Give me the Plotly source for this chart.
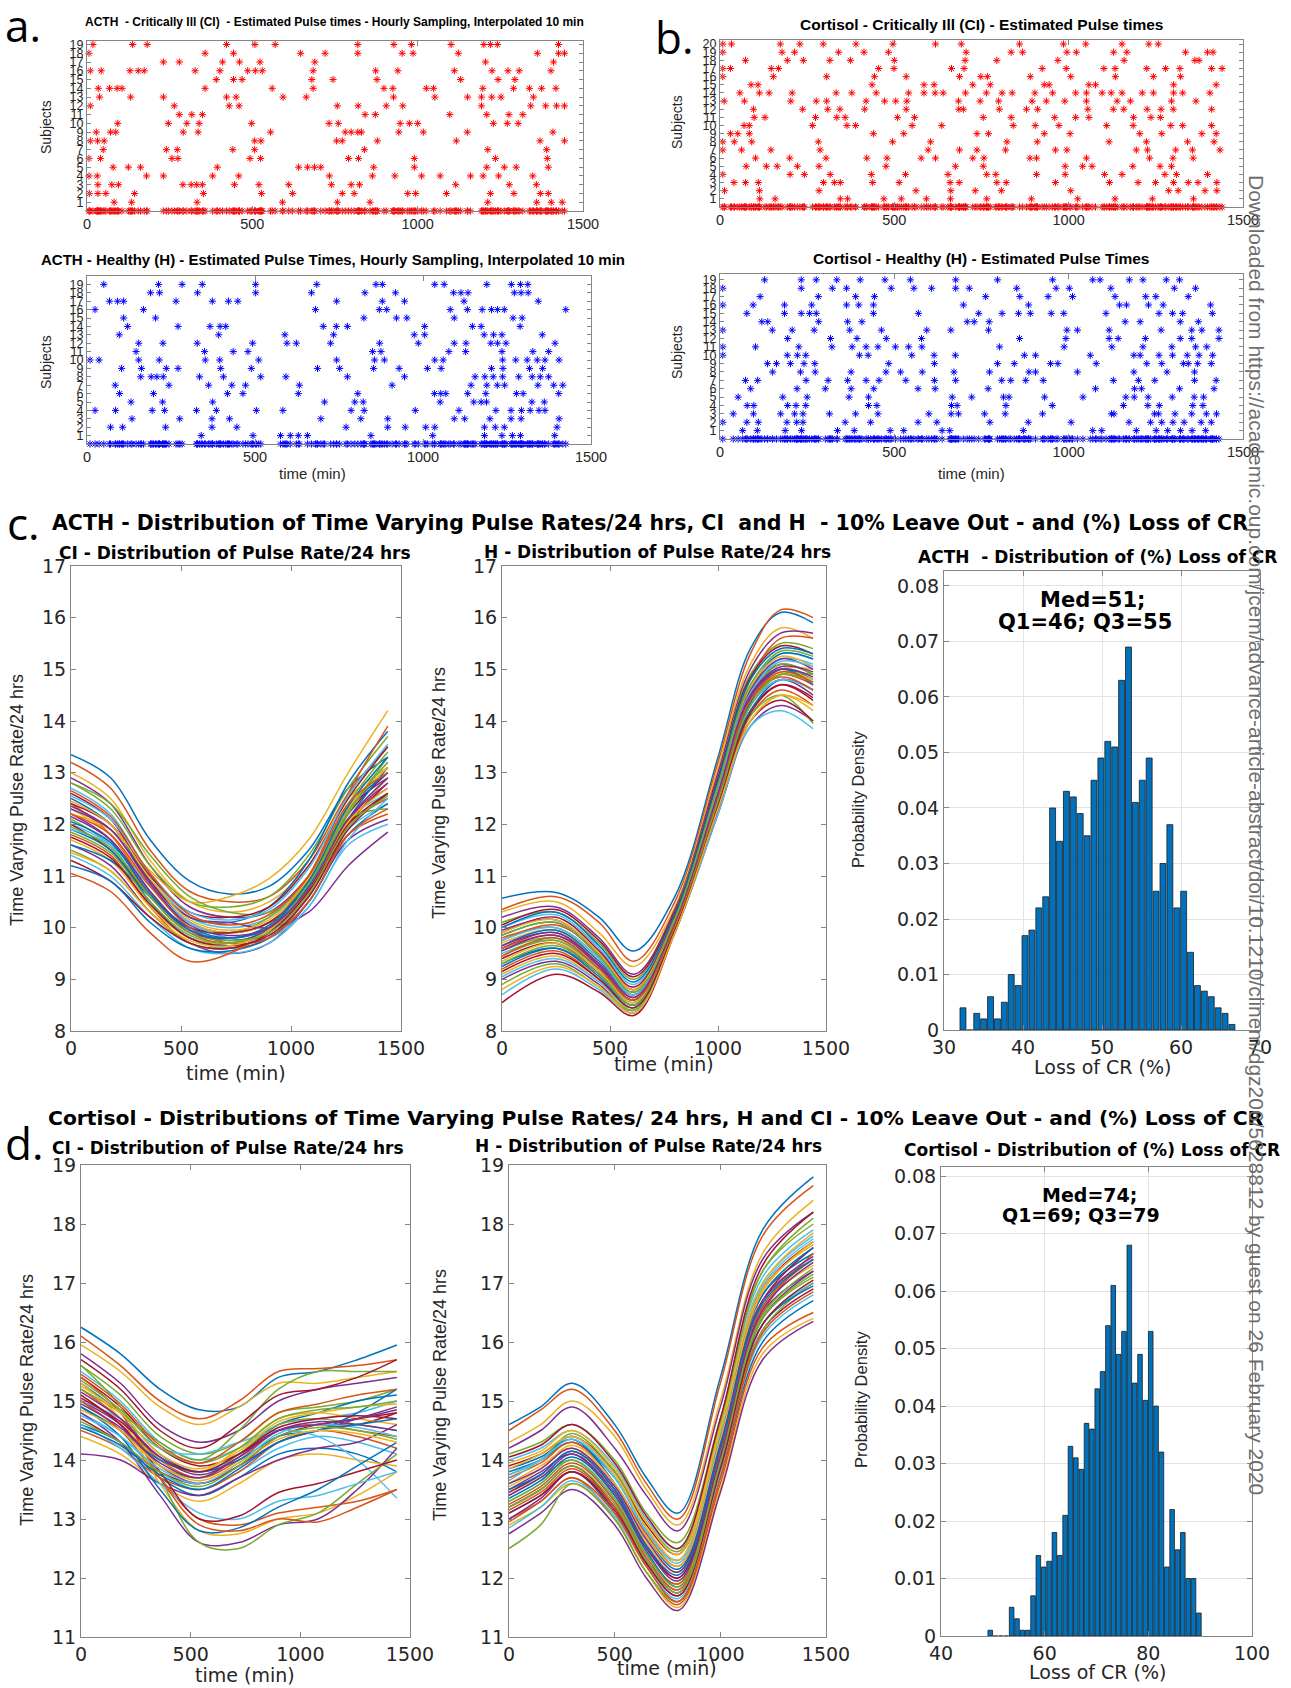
import plotly.graph_objects as go

W, H = 1291, 1688

# ---------------- DATA ----------------
# Estimated pulse times (min) per subject (index 0 = subject 1)
acth_ci_pulses = [
    [82, 135, 333, 591, 757, 856, 1212, 1360, 1404, 1437],
    [7, 33, 57, 144, 352, 528, 622, 772, 808, 970, 994, 1087, 1220, 1291, 1371, 1395],
    [33, 75, 95, 290, 315, 332, 349, 446, 520, 610, 739, 799, 824, 1115, 1277, 1359],
    [6, 31, 180, 231, 380, 459, 733, 863, 931, 1012, 1068, 1160, 1198, 1245, 1348],
    [79, 125, 162, 394, 640, 667, 688, 707, 867, 990, 1209, 1262, 1298, 1395],
    [6, 41, 257, 275, 493, 525, 791, 821, 990, 1235, 1392],
    [49, 240, 273, 441, 507, 839, 1212, 1390],
    [10, 32, 52, 507, 526, 755, 772, 878, 1117, 1370, 1444],
    [28, 71, 87, 291, 336, 555, 781, 799, 819, 830, 943, 1017, 1150, 1409],
    [93, 246, 302, 339, 498, 732, 760, 947, 975, 1000, 1229, 1271, 1304],
    [279, 317, 349, 841, 872, 1097, 1209, 1276, 1318],
    [10, 264, 430, 460, 757, 820, 905, 955, 1193, 1342, 1387, 1420, 1444],
    [38, 132, 231, 422, 451, 593, 663, 927, 1052, 1151, 1193, 1224, 1252, 1350],
    [34, 68, 91, 106, 357, 560, 684, 898, 925, 1026, 1048, 1197, 1290, 1338, 1375, 1418],
    [391, 443, 469, 680, 744, 877, 1130, 1243, 1294],
    [10, 43, 130, 155, 173, 327, 402, 486, 509, 530, 684, 873, 940, 1111, 1225, 1273, 1307, 1403],
    [231, 279, 410, 461, 523, 689, 1205, 1411],
    [6, 357, 443, 646, 720, 819, 953, 986, 1123, 1362, 1426, 1444],
    [18, 138, 182, 422, 508, 569, 819, 928, 981, 1101, 1200, 1220, 1241, 1426],
]
acth_h_pulses = [
    [340, 494, 576, 605, 629, 656, 845, 1029, 1183, 1235, 1266, 1290, 1392],
    [70, 106, 234, 372, 446, 771, 895, 947, 1008, 1035, 1183, 1215, 1242, 1399],
    [134, 276, 372, 424, 696, 815, 895, 1093, 1124, 1199, 1262, 1292, 1405],
    [24, 85, 194, 231, 326, 385, 504, 583, 786, 825, 977, 1107, 1217, 1262, 1293, 1319, 1345, 1363],
    [131, 225, 374, 707, 797, 822, 1051, 1151, 1173, 1189, 1324, 1361],
    [97, 198, 418, 464, 629, 806, 1034, 1053, 1068, 1133, 1187, 1278, 1298, 1404],
    [84, 244, 362, 431, 472, 632, 908, 1143, 1190, 1221, 1243, 1342, 1389, 1416],
    [160, 191, 208, 227, 335, 406, 517, 592, 775, 945, 1155, 1184, 1209, 1237, 1285, 1325, 1349, 1374],
    [103, 162, 236, 271, 398, 489, 686, 752, 853, 929, 1013, 1054, 1204, 1238, 1317, 1356],
    [9, 36, 154, 215, 352, 395, 511, 743, 856, 885, 1035, 1060, 1237, 1276, 1310, 1340, 1363, 1405],
    [146, 350, 435, 479, 850, 875, 1077, 1127, 1235, 1327, 1374],
    [154, 226, 328, 493, 595, 623, 725, 871, 986, 1093, 1128, 1202, 1222, 1247, 1393],
    [96, 392, 589, 734, 974, 1005, 1182, 1210, 1235, 1355],
    [121, 271, 366, 396, 413, 703, 742, 775, 1005, 1147, 1173, 1289],
    [109, 204, 824, 921, 952, 1093, 1268, 1295],
    [24, 168, 680, 870, 892, 1081, 1132, 1176, 1204, 1222, 1242, 1425],
    [67, 91, 109, 265, 373, 421, 449, 743, 879, 945, 1122, 1343],
    [189, 216, 329, 502, 668, 827, 918, 1091, 1113, 1134, 1272, 1292, 1313],
    [50, 213, 283, 343, 502, 684, 860, 879, 1035, 1063, 1190, 1263, 1290, 1312],
]
cort_ci_pulses = [
    [114, 158, 345, 366, 470, 520, 592, 661, 765, 893, 1026, 1133, 1240, 1358],
    [13, 113, 284, 562, 662, 732, 807, 1006, 1287, 1314, 1391, 1425],
    [40, 73, 110, 297, 328, 345, 438, 514, 660, 686, 794, 821, 962, 1117, 1199, 1249, 1301, 1343, 1371, 1425],
    [8, 201, 242, 316, 434, 532, 654, 765, 791, 908, 990, 1103, 1153, 1276, 1309, 1398],
    [75, 133, 164, 222, 284, 476, 675, 755, 990, 1040, 1067, 1184, 1262, 1295],
    [102, 200, 304, 421, 479, 577, 618, 725, 757, 889, 908, 1051, 1232, 1299, 1357],
    [8, 62, 146, 287, 597, 687, 737, 819, 962, 995, 1194, 1226, 1307, 1355, 1434],
    [8, 41, 91, 282, 495, 604, 823, 910, 1116, 1223, 1341, 1417],
    [30, 51, 84, 440, 527, 737, 770, 930, 1004, 1204, 1267, 1382, 1423],
    [69, 84, 265, 364, 389, 551, 636, 841, 904, 972, 1109, 1185, 1293, 1327, 1410],
    [98, 129, 274, 335, 359, 509, 558, 755, 835, 960, 1020, 1058, 1186, 1236, 1263],
    [96, 237, 309, 344, 415, 534, 685, 698, 801, 879, 911, 1055, 1128, 1158, 1225, 1265, 1300, 1410],
    [12, 70, 203, 276, 306, 419, 472, 504, 536, 684, 746, 799, 895, 936, 989, 1051, 1139, 1177, 1295, 1365],
    [57, 113, 141, 207, 333, 378, 448, 541, 585, 617, 640, 704, 764, 809, 838, 903, 954, 1020, 1051, 1096,
     1122, 1153, 1211, 1243, 1301, 1327, 1405],
    [89, 109, 436, 585, 614, 725, 775, 930, 944, 1058, 1077, 1301, 1423],
    [8, 153, 306, 443, 534, 687, 748, 767, 890, 1006, 1134, 1243, 1321],
    [8, 30, 147, 168, 455, 499, 664, 700, 924, 993, 1101, 1133, 1224, 1278, 1319, 1410, 1440],
    [73, 193, 239, 315, 374, 500, 703, 794, 969, 1159, 1362, 1374],
    [8, 178, 214, 340, 413, 483, 706, 835, 868, 995, 1022, 1129, 1167, 1335, 1398, 1414],
    [8, 33, 173, 229, 296, 390, 496, 618, 692, 859, 985, 1049, 1153, 1230, 1257],
]
cort_h_pulses = [
    [65, 107, 187, 234, 337, 385, 488, 527, 637, 659, 870, 1069, 1095, 1194, 1251, 1284, 1321, 1354, 1393],
    [8, 77, 110, 192, 220, 238, 359, 432, 568, 622, 774, 884, 1007, 1173, 1235, 1267, 1299, 1331, 1380, 1409],
    [38, 96, 174, 214, 238, 314, 389, 453, 599, 663, 684, 759, 818, 925, 1123, 1130, 1246, 1258, 1305, 1353,
     1395, 1424],
    [78, 97, 194, 218, 246, 426, 450, 664, 680, 820, 953, 1157, 1227, 1260, 1356, 1385],
    [52, 180, 250, 370, 426, 666, 722, 813, 829, 931, 1041, 1164, 1188, 1228, 1297, 1360, 1387],
    [88, 221, 302, 376, 441, 568, 617, 769, 1077, 1189, 1209, 1318, 1417],
    [73, 108, 247, 310, 366, 419, 456, 533, 615, 676, 808, 834, 877, 927, 1128, 1200, 1247, 1361, 1423],
    [151, 231, 273, 376, 476, 518, 580, 671, 773, 886, 905, 1025, 1187, 1282, 1361],
    [136, 162, 202, 241, 272, 484, 615, 796, 844, 948, 969, 1079, 1224, 1267, 1329, 1343, 1370, 1409],
    [8, 193, 222, 246, 400, 425, 550, 614, 675, 873, 905, 1062, 1187, 1205, 1259, 1298, 1340, 1374, 1413],
    [8, 102, 226, 321, 379, 419, 453, 503, 541, 579, 802, 987, 1124, 1213, 1296, 1364, 1396],
    [194, 317, 393, 477, 578, 859, 992, 1116, 1142, 1220, 1320, 1353, 1431],
    [8, 150, 207, 270, 372, 463, 593, 662, 770, 995, 1025, 1116, 1265, 1353, 1382, 1431],
    [120, 137, 283, 366, 407, 709, 729, 772, 1162, 1205, 1320, 1372],
    [77, 185, 233, 257, 276, 440, 569, 742, 809, 856, 890, 950, 986, 1107, 1259, 1298, 1327, 1412],
    [8, 95, 185, 263, 363, 398, 440, 698, 885, 1146, 1166, 1229, 1271, 1407],
    [115, 282, 389, 443, 762, 860, 941, 1011, 1133, 1221, 1250, 1343],
    [8, 233, 322, 363, 491, 556, 607, 676, 715, 851, 964, 1002, 1121, 1303, 1364],
    [128, 233, 276, 335, 402, 473, 546, 676, 796, 954, 1069, 1090, 1174, 1213, 1280, 1318],
]

# Time-varying pulse-rate curves (values read at knot times)
acth_ci_t = [0, 180, 360, 540, 720, 900, 1080, 1260, 1440]
acth_ci_curves = [
    [13.35, 12.9, 11.7, 10.9, 10.65, 10.8, 11.5, 12.7, 13.3],
    [13.2, 12.7, 11.5, 10.7, 10.5, 10.6, 11.3, 12.6, 13.5],
    [13.0, 12.5, 11.3, 10.5, 10.3, 10.5, 11.2, 12.5, 13.1],
    [12.9, 12.4, 11.2, 10.4, 10.2, 10.3, 11.0, 12.3, 12.9],
    [12.8, 12.3, 11.2, 10.5, 10.4, 10.6, 11.4, 12.7, 13.7],
    [12.7, 12.2, 11.0, 10.2, 10.0, 10.2, 10.9, 12.1, 12.6],
    [12.6, 12.1, 10.9, 10.1, 9.9, 10.1, 10.9, 12.2, 13.0],
    [12.5, 12.0, 10.9, 10.2, 10.1, 10.4, 11.3, 12.8, 13.8],
    [12.4, 11.8, 10.7, 9.9, 9.7, 9.9, 10.7, 12.0, 12.5],
    [12.3, 11.8, 10.8, 10.1, 9.9, 10.1, 10.9, 12.3, 13.2],
    [12.2, 11.7, 10.6, 9.9, 9.8, 10.0, 10.8, 12.1, 12.7],
    [12.1, 11.6, 10.6, 10.0, 9.9, 10.2, 11.0, 12.4, 13.4],
    [12.0, 11.6, 10.5, 9.8, 9.6, 9.8, 10.6, 11.9, 12.4],
    [12.0, 11.5, 10.6, 10.0, 9.9, 10.1, 10.8, 12.0, 12.6],
    [11.9, 11.5, 10.5, 9.8, 9.7, 10.0, 10.9, 12.3, 13.0],
    [11.8, 11.4, 10.4, 9.7, 9.6, 9.8, 10.6, 11.8, 12.2],
    [11.7, 11.3, 10.4, 9.8, 9.7, 9.9, 10.7, 12.0, 12.9],
    [11.6, 11.2, 10.3, 9.7, 9.5, 9.7, 10.5, 11.7, 12.1],
    [11.5, 11.1, 10.3, 9.7, 9.6, 9.9, 10.8, 12.2, 13.3],
    [11.4, 11.0, 10.2, 9.6, 9.5, 9.7, 10.4, 11.6, 12.0],
    [11.3, 10.9, 10.2, 9.7, 9.6, 9.9, 10.7, 12.0, 12.8],
    [11.2, 10.9, 10.1, 9.6, 9.55, 9.8, 10.5, 11.8, 12.4],
    [11.05, 10.7, 9.9, 9.35, 9.5, 10.0, 11.0, 12.6, 13.9],
    [12.2, 11.9, 11.1, 10.5, 10.6, 10.95, 11.7, 13.0, 14.2],
    [12.3, 11.9, 10.9, 10.2, 10.1, 10.0, 10.3, 11.2, 11.85],
    [12.8, 12.4, 11.4, 10.6, 10.3, 10.3, 10.9, 12.1, 12.3],
    [11.9, 11.6, 10.8, 10.1, 9.8, 9.8, 10.4, 11.7, 12.5],
    [12.4, 12.0, 11.0, 10.3, 10.2, 10.4, 11.2, 12.5, 13.5],
    [11.6, 11.3, 10.6, 10.0, 9.8, 10.0, 10.8, 12.1, 13.1],
    [12.2, 11.8, 10.8, 10.0, 9.7, 9.8, 10.5, 11.8, 12.3],
    [12.45, 12.0, 10.95, 10.15, 9.95, 10.15, 10.95, 12.3, 13.1],
    [12.15, 11.7, 10.7, 9.95, 9.75, 9.95, 10.75, 12.1, 12.9],
    [11.85, 11.45, 10.5, 9.85, 9.7, 9.95, 10.85, 12.25, 13.2],
    [12.55, 12.1, 11.05, 10.3, 10.15, 10.35, 11.15, 12.55, 13.55],
    [11.75, 11.35, 10.45, 9.8, 9.65, 9.85, 10.6, 11.9, 12.6],
    [12.05, 11.65, 10.65, 9.95, 9.8, 10.05, 10.9, 12.35, 13.3],
    [12.65, 12.15, 11.05, 10.25, 10.05, 10.25, 11.0, 12.4, 13.0],
    [11.45, 11.1, 10.3, 9.75, 9.65, 9.95, 10.75, 12.05, 12.7],
    [12.35, 11.9, 10.85, 10.05, 9.85, 10.0, 10.75, 12.1, 12.8],
    [11.95, 11.55, 10.6, 9.9, 9.75, 9.9, 10.65, 11.95, 12.55],
]
acth_h_t = [0, 250, 450, 610, 800, 1000, 1150, 1290, 1440]
acth_h_curves = [
    [10.57, 10.68, 10.2, 9.55, 10.6, 13.3, 15.4, 16.1, 15.9],
    [10.35, 10.6, 10.1, 9.35, 10.5, 13.2, 15.3, 16.15, 16.0],
    [10.3, 10.5, 9.9, 9.25, 10.4, 13.1, 15.1, 15.8, 15.6],
    [10.2, 10.4, 9.8, 9.1, 10.35, 13.0, 15.0, 15.7, 15.7],
    [10.1, 10.3, 9.7, 9.0, 10.3, 12.9, 14.9, 15.5, 15.4],
    [10.0, 10.25, 9.6, 8.9, 10.2, 12.8, 14.7, 15.3, 15.2],
    [9.9, 10.2, 9.55, 8.85, 10.2, 12.8, 14.6, 15.1, 14.9],
    [9.85, 10.1, 9.45, 8.75, 10.15, 12.7, 14.5, 15.0, 14.8],
    [9.8, 10.0, 9.4, 8.7, 10.1, 12.6, 14.4, 14.9, 14.7],
    [9.7, 9.95, 9.3, 8.65, 10.1, 12.6, 14.4, 15.0, 15.0],
    [9.6, 9.9, 9.25, 8.6, 10.05, 12.5, 14.3, 14.8, 14.5],
    [9.55, 9.8, 9.2, 8.55, 10.0, 12.5, 14.3, 14.9, 14.9],
    [9.5, 9.75, 9.15, 8.55, 10.05, 12.6, 14.5, 15.2, 15.1],
    [9.4, 9.7, 9.1, 8.5, 10.0, 12.4, 14.2, 14.7, 14.4],
    [9.3, 9.6, 9.05, 8.45, 10.0, 12.4, 14.2, 14.8, 14.6],
    [9.2, 9.55, 9.0, 8.4, 9.95, 12.3, 14.1, 14.6, 14.3],
    [9.1, 9.45, 8.95, 8.4, 9.95, 12.3, 14.0, 14.5, 14.2],
    [9.0, 9.35, 8.9, 8.35, 9.9, 12.2, 13.9, 14.3, 14.0],
    [8.9, 9.3, 8.85, 8.4, 10.0, 12.4, 14.1, 14.5, 13.95],
    [8.7, 9.2, 8.8, 8.35, 9.9, 12.2, 13.9, 14.2, 13.85],
    [8.55, 9.1, 8.75, 8.3, 9.9, 12.3, 14.0, 14.4, 14.0],
    [9.65, 9.95, 9.35, 8.7, 10.1, 12.7, 14.6, 15.3, 15.2],
    [9.75, 10.05, 9.5, 8.8, 10.2, 12.9, 14.8, 15.6, 15.6],
    [9.35, 9.7, 9.15, 8.55, 10.05, 12.6, 14.4, 14.95, 14.8],
    [9.95, 10.15, 9.5, 8.8, 10.15, 12.7, 14.6, 15.2, 15.0],
    [9.45, 9.75, 9.2, 8.6, 10.1, 12.6, 14.5, 15.1, 14.9],
    [9.05, 9.4, 8.95, 8.45, 10.0, 12.5, 14.3, 14.8, 14.6],
    [10.05, 10.35, 9.75, 9.05, 10.3, 12.9, 14.85, 15.45, 15.3],
    [9.25, 9.6, 9.1, 8.5, 10.0, 12.5, 14.35, 15.0, 14.7],
    [9.6, 9.85, 9.3, 8.65, 10.05, 12.55, 14.4, 14.85, 14.6],
    [9.9, 10.15, 9.5, 8.8, 10.15, 12.75, 14.65, 15.25, 15.05],
    [9.55, 9.85, 9.25, 8.6, 10.05, 12.6, 14.45, 15.0, 14.85],
    [9.3, 9.65, 9.1, 8.5, 10.0, 12.45, 14.3, 14.9, 14.75],
    [9.75, 10.0, 9.4, 8.7, 10.1, 12.65, 14.55, 15.15, 15.05],
    [9.15, 9.5, 9.0, 8.45, 9.95, 12.35, 14.15, 14.7, 14.45],
    [10.0, 10.3, 9.65, 8.95, 10.25, 12.85, 14.8, 15.4, 15.3],
    [9.45, 9.8, 9.2, 8.6, 10.05, 12.55, 14.4, 14.95, 14.75],
    [8.8, 9.25, 8.85, 8.35, 9.9, 12.3, 14.0, 14.5, 14.3],
    [9.65, 9.9, 9.3, 8.65, 10.1, 12.6, 14.5, 15.05, 14.95],
    [9.85, 10.1, 9.45, 8.75, 10.15, 12.75, 14.7, 15.35, 15.25],
]
cort_ci_t = [0, 180, 360, 540, 720, 900, 1080, 1260, 1440]
cort_ci_curves = [
    [16.25, 15.8, 15.2, 14.85, 14.9, 15.4, 15.5, 15.7, 15.95],
    [16.1, 15.6, 15.0, 14.7, 15.0, 15.5, 15.55, 15.6, 15.7],
    [15.95, 15.5, 14.9, 14.6, 14.9, 15.3, 15.3, 15.4, 15.5],
    [15.8, 15.3, 14.6, 14.3, 14.5, 15.0, 15.2, 15.3, 15.4],
    [15.6, 15.1, 14.4, 14.1, 14.3, 14.8, 14.9, 15.0, 15.2],
    [15.5, 15.0, 14.3, 14.0, 14.2, 14.6, 14.7, 14.8, 15.0],
    [15.4, 14.9, 14.2, 13.9, 14.1, 14.5, 14.6, 14.6, 14.8],
    [15.3, 14.8, 14.1, 13.8, 14.1, 14.6, 14.8, 15.0, 15.1],
    [15.2, 14.7, 14.0, 13.7, 14.0, 14.5, 14.6, 14.5, 14.4],
    [15.1, 14.6, 14.0, 13.8, 14.2, 14.7, 14.8, 14.7, 14.6],
    [15.0, 14.6, 13.9, 13.6, 13.9, 14.3, 14.5, 14.7, 14.9],
    [14.9, 14.5, 13.9, 13.7, 14.1, 14.6, 14.7, 14.6, 14.5],
    [14.8, 14.4, 13.8, 13.5, 13.8, 14.2, 14.4, 14.3, 14.1],
    [14.7, 14.3, 13.8, 13.6, 13.9, 14.4, 14.6, 14.7, 14.8],
    [14.6, 14.3, 13.7, 13.4, 13.7, 14.1, 14.2, 14.1, 13.8],
    [14.5, 14.2, 13.7, 13.5, 13.8, 14.3, 14.5, 14.4, 14.2],
    [14.4, 14.1, 13.6, 13.3, 13.6, 14.0, 14.1, 14.0, 13.9],
    [14.1, 14.0, 13.6, 13.4, 13.7, 14.0, 14.2, 14.3, 14.6],
    [15.2, 14.8, 14.3, 14.0, 14.5, 15.2, 15.5, 15.5, 15.5],
    [15.0, 14.7, 14.2, 14.1, 14.3, 14.5, 14.4, 14.0, 13.35],
    [15.7, 15.2, 14.5, 14.2, 14.6, 15.1, 15.2, 15.4, 15.7],
    [14.9, 14.5, 14.0, 13.8, 14.0, 14.4, 14.5, 14.8, 15.2],
    [15.0, 14.5, 13.7, 13.0, 12.9, 13.1, 13.2, 13.3, 13.5],
    [15.3, 14.7, 13.6, 12.8, 12.75, 13.0, 13.1, 13.4, 13.8],
    [14.8, 14.3, 13.4, 12.6, 12.6, 12.9, 13.0, 13.5, 14.2],
    [15.6, 14.9, 13.7, 12.6, 12.5, 12.9, 13.1, 13.6, 14.1],
    [14.6, 14.2, 13.6, 13.1, 13.0, 13.3, 13.4, 13.6, 13.8],
    [15.1, 14.6, 13.8, 13.0, 13.05, 13.45, 13.6, 13.8, 14.0],
    [14.9, 14.4, 13.5, 12.8, 12.85, 13.2, 13.5, 13.9, 14.3],
    [15.4, 14.8, 13.7, 12.9, 12.8, 13.0, 12.95, 13.2, 13.5],
    [15.25, 14.8, 14.1, 13.85, 14.15, 14.65, 14.8, 14.9, 14.95],
    [14.95, 14.55, 13.95, 13.7, 14.05, 14.5, 14.65, 14.6, 14.5],
    [15.35, 14.85, 14.2, 13.95, 14.2, 14.7, 14.85, 14.9, 15.0],
    [14.75, 14.4, 13.85, 13.6, 13.95, 14.45, 14.6, 14.55, 14.4],
    [15.05, 14.65, 14.05, 13.8, 14.1, 14.55, 14.7, 14.75, 14.7],
    [14.55, 14.25, 13.75, 13.5, 13.85, 14.3, 14.5, 14.6, 14.7],
    [15.45, 14.95, 14.25, 13.95, 14.3, 14.8, 14.95, 15.1, 15.2],
    [14.85, 14.5, 13.9, 13.65, 13.95, 14.35, 14.5, 14.45, 14.3],
    [15.15, 14.7, 14.05, 13.75, 14.05, 14.5, 14.6, 14.7, 14.85],
    [14.65, 14.3, 13.8, 13.55, 13.9, 14.4, 14.55, 14.5, 14.35],
]
cort_h_t = [0, 150, 300, 500, 650, 800, 1000, 1200, 1440]
cort_h_curves = [
    [14.6, 14.9, 15.3, 14.6, 13.7, 13.1, 15.4, 17.9, 18.8],
    [14.5, 14.85, 15.2, 14.5, 13.6, 13.0, 15.3, 17.8, 18.65],
    [14.3, 14.6, 15.0, 14.4, 13.5, 12.9, 15.0, 17.5, 18.4],
    [14.2, 14.5, 14.9, 14.2, 13.4, 12.8, 14.9, 17.4, 18.2],
    [14.1, 14.3, 14.6, 14.0, 13.1, 12.6, 14.7, 17.2, 18.0],
    [14.0, 14.2, 14.5, 13.9, 13.0, 12.5, 14.6, 17.0, 17.8],
    [13.9, 14.1, 14.4, 13.8, 12.9, 12.4, 14.5, 16.9, 17.7],
    [13.8, 14.0, 14.3, 13.7, 12.8, 12.3, 14.4, 16.8, 17.5],
    [13.7, 13.95, 14.3, 13.6, 12.75, 12.2, 14.3, 16.7, 17.4],
    [13.6, 13.9, 14.2, 13.5, 12.6, 12.1, 14.2, 16.6, 17.3],
    [13.5, 13.8, 14.1, 13.4, 12.5, 12.0, 14.1, 16.5, 17.2],
    [13.4, 13.7, 14.0, 13.3, 12.4, 11.9, 14.0, 16.4, 17.1],
    [13.3, 13.6, 14.0, 13.3, 12.3, 11.8, 13.9, 16.3, 17.0],
    [13.2, 13.5, 13.9, 13.2, 12.25, 11.7, 13.8, 16.2, 16.9],
    [13.1, 13.4, 13.8, 13.1, 12.2, 11.6, 13.7, 16.0, 16.7],
    [13.0, 13.3, 13.7, 13.0, 12.1, 11.55, 13.6, 15.9, 16.5],
    [12.9, 13.2, 13.6, 13.0, 12.1, 11.5, 13.5, 15.8, 16.4],
    [12.75, 13.1, 13.5, 12.9, 12.0, 11.45, 13.45, 15.7, 16.35],
    [12.5, 12.9, 13.6, 13.0, 12.1, 11.6, 13.8, 16.2, 17.0],
    [13.65, 14.0, 14.4, 13.7, 12.8, 12.3, 14.6, 17.1, 17.9],
    [13.45, 13.75, 14.15, 13.5, 12.55, 12.0, 14.2, 16.7, 17.6],
    [13.85, 14.05, 14.35, 13.6, 12.7, 12.15, 14.3, 16.8, 17.6],
    [13.25, 13.55, 13.95, 13.3, 12.4, 11.9, 14.1, 16.6, 17.4],
    [13.55, 13.85, 14.25, 13.6, 12.7, 12.2, 14.35, 16.85, 17.7],
    [13.0, 13.35, 13.8, 13.2, 12.3, 11.75, 13.9, 16.4, 17.2],
    [13.75, 14.0, 14.45, 13.8, 12.95, 12.45, 14.6, 17.2, 18.1],
    [12.85, 13.2, 13.65, 13.05, 12.2, 11.65, 13.75, 16.1, 16.8],
    [14.05, 14.25, 14.6, 13.95, 13.05, 12.5, 14.7, 17.3, 18.2],
    [13.35, 13.65, 14.05, 13.4, 12.45, 11.85, 13.9, 16.3, 16.95],
    [13.15, 13.45, 13.85, 13.2, 12.35, 11.8, 14.0, 16.5, 17.5],
    [13.95, 14.15, 14.5, 13.85, 12.95, 12.4, 14.55, 17.0, 17.85],
    [13.6, 13.85, 14.2, 13.55, 12.65, 12.1, 14.25, 16.7, 17.45],
    [13.3, 13.6, 14.0, 13.35, 12.4, 11.85, 14.0, 16.45, 17.25],
    [13.75, 14.0, 14.35, 13.7, 12.8, 12.25, 14.45, 16.95, 17.75],
    [13.1, 13.4, 13.8, 13.15, 12.25, 11.7, 13.85, 16.3, 17.05],
    [13.5, 13.75, 14.15, 13.5, 12.55, 12.05, 14.2, 16.65, 17.4],
    [12.95, 13.3, 13.7, 13.1, 12.2, 11.6, 13.7, 16.15, 16.85],
    [13.85, 14.1, 14.4, 13.75, 12.85, 12.3, 14.5, 16.9, 17.65],
    [13.4, 13.7, 14.1, 13.45, 12.5, 11.95, 14.05, 16.55, 17.35],
    [13.2, 13.5, 13.9, 13.25, 12.3, 11.75, 13.95, 16.4, 17.15],
]

# Histograms of (%) loss of CR: first bin centre, bin width, probability density per bin
acth_loss_first_bin = 32.4
acth_loss_bin_width = 0.873
acth_loss_density = [0.004, 0.0, 0.003, 0.002, 0.006, 0.002, 0.005, 0.010, 0.008, 0.017,
                     0.018, 0.022, 0.024, 0.040, 0.034, 0.043, 0.042, 0.039, 0.035, 0.045,
                     0.049, 0.052, 0.051, 0.063, 0.069, 0.041, 0.045, 0.049, 0.025, 0.030,
                     0.037, 0.022, 0.025, 0.014, 0.008, 0.007, 0.006, 0.004, 0.003, 0.001]
cort_loss_first_bin = 49.5
cort_loss_bin_width = 1.032
cort_loss_density = [0.001, 0.0, 0.0, 0.0, 0.005, 0.003, 0.001, 0.001, 0.007, 0.014,
                     0.012, 0.013, 0.018, 0.014, 0.021, 0.033, 0.031, 0.029, 0.037, 0.036,
                     0.043, 0.046, 0.054, 0.061, 0.049, 0.053, 0.068, 0.044, 0.049, 0.041,
                     0.053, 0.040, 0.032, 0.012, 0.022, 0.015, 0.018, 0.010, 0.010, 0.004]

acth_stats = ["Med=51;", "Q1=46; Q3=55"]
cort_stats = ["Med=74;", "Q1=69; Q3=79"]

# ---------------- STYLE ----------------
MATLAB_COLORS = ['#0072BD', '#D95319', '#EDB120', '#7E2F8E', '#77AC30', '#4DBEEE', '#A2142F']
TXT = '#262626'
BOX = '#858585'
SANS = 'Liberation Sans, Arial, sans-serif'
WIDE = 'DejaVu Sans, Verdana, sans-serif'


def dom(x0, x1, y0, y1):
    return [x0 / W, x1 / W], [1 - y1 / H, 1 - y0 / H]


fig = go.Figure()
layout = dict(width=W, height=H, autosize=False,
              margin=dict(l=0, r=0, t=0, b=0, pad=0, autoexpand=False),
              paper_bgcolor='white', plot_bgcolor='white', showlegend=False,
              font=dict(family=SANS, color=TXT), bargap=0.14)

boxes = {
    1: (87, 583, 41, 211),
    2: (87, 591, 276, 444),
    3: (720, 1243, 40, 207),
    4: (720, 1243, 274, 439),
    5: (71, 401, 566, 1031),
    6: (502, 826, 566, 1031),
    7: (944, 1260, 571, 1030),
    8: (81, 410, 1165, 1637),
    9: (509, 826, 1165, 1637),
    10: (941, 1252, 1167, 1636),
}


def base_axis(**kw):
    d = dict(showline=True, linecolor=BOX, linewidth=1, mirror='ticks', ticks='inside',
             ticklen=5, tickcolor=BOX, zeroline=False, showgrid=False, automargin=False)
    d.update(kw)
    return d


def set_axes(i, xkw, ykw):
    xd, yd = dom(*boxes[i])
    xn = 'xaxis' if i == 1 else 'xaxis%d' % i
    yn = 'yaxis' if i == 1 else 'yaxis%d' % i
    ref = '' if i == 1 else str(i)
    layout[xn] = base_axis(domain=xd, anchor='y' + ref, **xkw)
    layout[yn] = base_axis(domain=yd, anchor='x' + ref, **ykw)
    return 'x' + ref, 'y' + ref


# ---------- raster plots ----------
raster_specs = [
    (1, acth_ci_pulses, 'red', 19.4),
    (2, acth_h_pulses, 'blue', 20.0),
    (3, cort_ci_pulses, 'red', 20.5),
    (4, cort_h_pulses, 'blue', 19.7),
]
for idx, rows, col, ytop in raster_specs:
    n = len(rows)
    xr, yr = set_axes(
        idx,
        dict(range=[0, 1500], tickvals=[0, 500, 1000, 1500], tickfont=dict(size=14.5, family=SANS, color=TXT)),
        dict(range=[0, ytop], tickvals=list(range(1, n + 1)), ticktext=[str(k) for k in range(1, n + 1)],
             tickfont=dict(size=12.5, family=SANS, color=TXT), ticklen=4))
    xs = [t for row in rows for t in row]
    ys = [k + 1 for k, row in enumerate(rows) for t in row]
    fig.add_trace(go.Scatter(x=xs, y=ys, mode='markers', xaxis=xr, yaxis=yr, cliponaxis=False,
                             marker=dict(symbol='asterisk-open', size=6, color=col,
                                         line=dict(width=1, color=col))))
    allt = sorted(set(xs))
    fig.add_trace(go.Scatter(x=allt, y=[0] * len(allt), mode='markers', xaxis=xr, yaxis=yr, cliponaxis=False,
                             marker=dict(symbol='asterisk-open', size=6, color=col,
                                         line=dict(width=1, color=col))))

# ---------- curve ensembles ----------
curve_specs = [
    (5, acth_ci_t, acth_ci_curves, [8, 17]),
    (6, acth_h_t, acth_h_curves, [8, 17]),
    (8, cort_ci_t, cort_ci_curves, [11, 19]),
    (9, cort_h_t, cort_h_curves, [11, 19]),
]
for idx, tk, curves, yrng in curve_specs:
    xr, yr = set_axes(
        idx,
        dict(range=[0, 1500], tickvals=[0, 500, 1000, 1500], tickfont=dict(size=19, family=WIDE, color=TXT)),
        dict(range=yrng, dtick=1, tickfont=dict(size=19, family=WIDE, color=TXT)))
    for k, c in enumerate(curves):
        fig.add_trace(go.Scatter(x=tk, y=c, mode='lines', xaxis=xr, yaxis=yr,
                                 line=dict(color=MATLAB_COLORS[k % 7], width=1.5, shape='spline', smoothing=1.0)))

# ---------- histograms ----------
hist_specs = [
    (7, acth_loss_first_bin, acth_loss_bin_width, acth_loss_density, [30, 70], [30, 40, 50, 60, 70], 0.0827),
    (10, cort_loss_first_bin, cort_loss_bin_width, cort_loss_density, [40, 100], [40, 60, 80, 100], 0.0816),
]
for idx, x0, dx, dens, xrng, xt, ytop in hist_specs:
    xr, yr = set_axes(
        idx,
        dict(range=xrng, tickvals=xt, showgrid=True, gridcolor='#e3e3e3',
             tickfont=dict(size=19, family=WIDE, color=TXT)),
        dict(range=[0, ytop], tickvals=[0, 0.01, 0.02, 0.03, 0.04, 0.05, 0.06, 0.07, 0.08],
             ticktext=['0', '0.01', '0.02', '0.03', '0.04', '0.05', '0.06', '0.07', '0.08'],
             showgrid=True, gridcolor='#e3e3e3', tickfont=dict(size=19, family=WIDE, color=TXT)))
    fig.add_trace(go.Bar(x0=x0, dx=dx, y=dens, xaxis=xr, yaxis=yr,
                         marker=dict(color='#0072BD', line=dict(color='#1c1c1c', width=0.8))))

# ---------- annotations ----------
anns = []


def ann(text, x, y, size, family=SANS, bold=False, color=TXT, angle=0, xanchor='center'):
    t = '<b>%s</b>' % text if bold else text
    anns.append(dict(text=t, x=x / W, y=1 - y / H, xref='paper', yref='paper', showarrow=False,
                     xanchor=xanchor, yanchor='middle', textangle=angle,
                     font=dict(size=size, family=family, color=color)))


# panel letters
for lab, x, y in [('a.', 23, 25), ('b.', 674, 37), ('c.', 24, 523), ('d.', 24, 1143)]:
    ann(lab, x, y, 44, family='Open Sans, Lato, sans-serif', color='black')

# raster titles
ann('ACTH  - Critically Ill (CI)  - Estimated Pulse times - Hourly Sampling, Interpolated 10 min', 334, 22, 12,
    bold=True, color='black')
ann('ACTH - Healthy (H) - Estimated Pulse Times, Hourly Sampling, Interpolated 10 min', 333, 260, 15,
    bold=True, color='black')
ann('Cortisol - Critically Ill (CI) - Estimated Pulse times', 981, 24, 15.5, bold=True, color='black')
ann('Cortisol - Healthy (H) - Estimated Pulse Times', 981, 258, 15.5, bold=True, color='black')
for y in [127, 362]:
    ann('Subjects', 46, y, 14, angle=-90)
for y in [122, 352]:
    ann('Subjects', 677, y, 14, angle=-90)
ann('time (min)', 312, 474, 15)
ann('time (min)', 971, 474, 15)

# section titles
ann('ACTH - Distribution of Time Varying Pulse Rates/24 hrs, CI  and H  - 10% Leave Out - and (%) Loss of CR',
    650, 523, 20.5, family=WIDE, bold=True, color='black')
ann('Cortisol - Distributions of Time Varying Pulse Rates/ 24 hrs, H and CI - 10% Leave Out - and (%) Loss of CR',
    656, 1118, 20.3, family=WIDE, bold=True, color='black')

# sub-panel titles
ann('CI - Distribution of Pulse Rate/24 hrs', 235, 553, 17, family=WIDE, bold=True, color='black')
ann('H - Distribution of Pulse Rate/24 hrs', 657, 552, 17, family=WIDE, bold=True, color='black')
ann('ACTH  - Distribution of (%) Loss of CR', 1097, 557, 17, family=WIDE, bold=True, color='black')
ann('CI - Distribution of Pulse Rate/24 hrs', 228, 1148, 17, family=WIDE, bold=True, color='black')
ann('H - Distribution of Pulse Rate/24 hrs', 648, 1146, 17, family=WIDE, bold=True, color='black')
ann('Cortisol - Distribution of (%) Loss of CR', 1092, 1150, 17, family=WIDE, bold=True, color='black')

# axis titles
ann('time (min)', 236, 1073, 19, family=WIDE)
ann('time (min)', 664, 1064, 19, family=WIDE)
ann('Loss of CR (%)', 1102, 1067, 19, family=WIDE)
ann('time (min)', 245, 1675, 19, family=WIDE)
ann('time (min)', 667, 1668, 19, family=WIDE)
ann('Loss of CR (%)', 1097, 1672, 19, family=WIDE)
ann('Time Varying Pulse Rate/24 hrs', 17, 800, 18, angle=-90)
ann('Time Varying Pulse Rate/24 hrs', 439, 793, 18, angle=-90)
ann('Probability Density', 858, 800, 16.5, angle=-90)
ann('Time Varying Pulse Rate/24 hrs', 27, 1400, 18, angle=-90)
ann('Time Varying Pulse Rate/24 hrs', 440, 1395, 18, angle=-90)
ann('Probability Density', 861, 1400, 16.5, angle=-90)

# histogram statistics
ann(acth_stats[0], 1092, 600, 21, family=WIDE, bold=True, color='black')
ann(acth_stats[1], 1085, 622, 21, family=WIDE, bold=True, color='black')
ann(cort_stats[0], 1089, 1195, 19, family=WIDE, bold=True, color='black')
ann(cort_stats[1], 1081, 1215, 19, family=WIDE, bold=True, color='black')

# download watermark
ann('Downloaded from https://academic.oup.com/jcem/advance-article-abstract/doi/10.1210/clinem/dgz206/5628812 '
    'by guest on 26 February 2020', 1257, 835, 21, color='#6e6e6e', angle=90)

layout['annotations'] = anns
fig.update_layout(**layout)
fig.write_html('out.html', config={'displayModeBar': False},
               post_script="document.body.style.margin='0';document.body.style.overflow='hidden';")
